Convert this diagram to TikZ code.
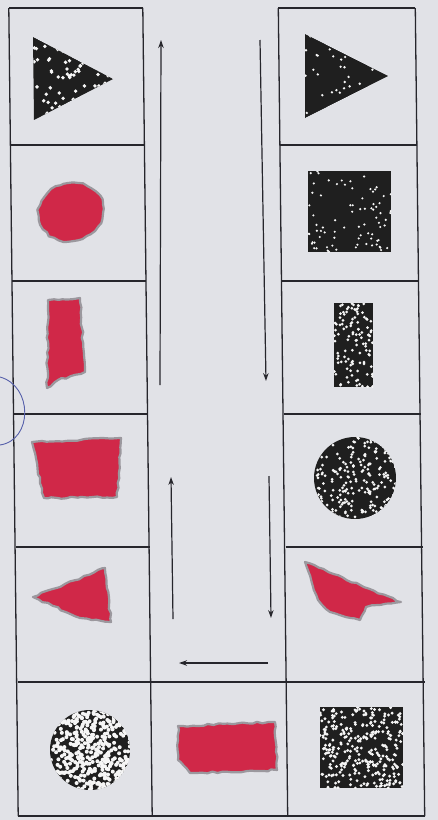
\documentclass[tikz,border=0pt]{standalone}
\usepackage{xcolor}
\usepackage{tikz}
\usetikzlibrary{arrows.meta,decorations.pathmorphing}

\definecolor{paper}{RGB}{225,226,231}
\definecolor{gridline}{RGB}{38,38,44}
\definecolor{paint}{RGB}{208,40,72}
\definecolor{rim}{RGB}{155,152,158}
\definecolor{pen}{RGB}{85,95,170}

% white speckles inside a clipped black shape
\newcommand\speckle[6]{%
  \foreach \n in {1,...,#5}{%
    \pgfmathsetmacro\sx{#1+rnd*(#3-#1)}%
    \pgfmathsetmacro\sy{#2+rnd*(#4-#2)}%
    \fill[white!92!gray] (\sx,\sy) circle (#6);}}

\begin{document}
\begin{tikzpicture}[
  x=1pt,y=-1pt,
  cell/.style={rectangle,inner sep=0pt,outer sep=0pt},
  frame/.style={draw=gridline,line width=1.3pt,line cap=butt},
  ink/.style={fill=black!88},
  redmark/.style={fill=paint,draw=rim,line width=2.2pt,line join=round,
    decorate,decoration={random steps,segment length=5pt,amplitude=1pt}},
  arrow/.style={-{Stealth[length=8pt,width=5.5pt]},line width=1.2pt,draw=gridline}
]
  \useasboundingbox (0,0) rectangle (438,820);
  \fill[paper] (0,0) rectangle (438,820);
  \pgfmathsetseed{29}

  % left column
  \node[cell,minimum width=134pt,minimum height=137pt] (l1) at (75.8,76.5) {};
  \node[cell,minimum width=134pt,minimum height=136pt] (l2) at (77.4,213) {};
  \node[cell,minimum width=134pt,minimum height=133pt] (l3) at (79.3,347.5) {};
  \node[cell,minimum width=134pt,minimum height=133pt] (l4) at (81.2,480.5) {};
  \node[cell,minimum width=134pt,minimum height=135pt] (l5) at (83.2,614.5) {};
  \node[cell,minimum width=134pt,minimum height=134pt] (l6) at (85.2,749) {};

  % right column
  \node[cell,minimum width=137pt,minimum height=137pt] (r1) at (346.8,76.5) {};
  \node[cell,minimum width=137pt,minimum height=136pt] (r2) at (348.4,213) {};
  \node[cell,minimum width=137pt,minimum height=133pt] (r3) at (350.3,347.5) {};
  \node[cell,minimum width=137pt,minimum height=133pt] (r4) at (352.2,480.5) {};
  \node[cell,minimum width=137pt,minimum height=135pt] (r5) at (354.2,614.5) {};
  \node[cell,minimum width=137pt,minimum height=134pt] (r6) at (356.2,749) {};

  % bottom middle
  \node[cell,minimum width=135pt,minimum height=134pt] (mid) at (221,749) {};

  % frame lines (paper is slightly skewed)
  \draw[frame] (l1.north west) -- (l6.south west);
  \draw[frame] (l1.north east) -- (l6.south east);
  \draw[frame] (r1.north west) -- (r6.south west);
  \draw[frame] (r1.north east) -- (r6.south east);
  \draw[frame] (l1.north west) -- (l1.north east);
  \draw[frame] (l2.north west) -- (l2.north east);
  \draw[frame] (l3.north west) -- (l3.north east);
  \draw[frame] (l4.north west) -- (l4.north east);
  \draw[frame] (l5.north west) -- (l5.north east);
  \draw[frame] (r1.north west) -- (r1.north east);
  \draw[frame] (r2.north west) -- (r2.north east);
  \draw[frame] (r3.north west) -- (r3.north east);
  \draw[frame] (r4.north west) -- (r4.north east);
  \draw[frame] (r5.north west) -- (r5.north east);
  \draw[frame] (l6.north west) -- (r6.north east);
  \draw[frame] (l6.south west) -- (r6.south east);

  % arrow ends
  \coordinate (la-bot) at (160,385);
  \coordinate (la-top) at (161,40);
  \coordinate (ra-top) at (260,40);
  \coordinate (ra-bot) at (266,381);
  \coordinate (lb-bot) at (173,619);
  \coordinate (lb-top) at (171,477);
  \coordinate (rb-top) at (269,476);
  \coordinate (rb-bot) at (271,618);
  \coordinate (h-right) at (268,663);
  \coordinate (h-left) at (179,663);

  \draw[arrow] (la-bot) -- (la-top);
  \draw[arrow] (ra-top) -- (ra-bot);
  \draw[arrow] (lb-bot) -- (lb-top);
  \draw[arrow] (rb-top) -- (rb-bot);
  \draw[arrow] (h-right) -- (h-left);

  % black printed shapes
  \begin{scope}
    \clip (33,37) -- (34,120) -- (113,79) -- cycle;
    \fill[ink] (33,37) -- (34,120) -- (113,79) -- cycle;
    \speckle{33}{37}{113}{120}{90}{1.9}
  \end{scope}
  \begin{scope}
    \clip (305,34) -- (305,118) -- (388,76) -- cycle;
    \fill[ink] (305,34) -- (305,118) -- (388,76) -- cycle;
    \speckle{305}{34}{388}{118}{40}{1.3}
  \end{scope}
  \begin{scope}
    \clip (308,171) rectangle (391,252);
    \fill[ink] (308,171) rectangle (391,252);
    \speckle{308}{171}{391}{252}{80}{1.2}
  \end{scope}
  \begin{scope}
    \clip (334,303) rectangle (373,387);
    \fill[ink] (334,303) rectangle (373,387);
    \speckle{334}{303}{373}{387}{110}{1.5}
  \end{scope}
  \begin{scope}
    \clip (355,478) circle (41);
    \fill[ink] (355,478) circle (41);
    \speckle{314}{437}{396}{519}{220}{1.5}
  \end{scope}
  \begin{scope}
    \clip (320,707) rectangle (403,788);
    \fill[ink] (320,707) rectangle (403,788);
    \speckle{320}{707}{403}{788}{300}{1.6}
  \end{scope}
  \begin{scope}
    \clip (90,750) circle (40);
    \fill[ink] (90,750) circle (40);
    \speckle{50}{710}{130}{790}{420}{2}
  \end{scope}

  % red painted shapes
  \filldraw[redmark] (71,212) ellipse [x radius=33, y radius=29, rotate=15];
  \filldraw[redmark] (48,300) -- (80,298) -- (85,372) -- (58,380) -- (47,388) -- cycle;
  \filldraw[redmark] (32,442) -- (121,438) -- (117,497) -- (44,498) -- cycle;
  \filldraw[redmark] (33,597) -- (105,568) -- (111,622) -- (80,618) -- cycle;
  \filldraw[redmark] (305,562) -- (401,602) -- (366,607) -- (360,620) -- (330,612) -- (318,600) -- cycle;
  \filldraw[redmark] (178,726) -- (275,722) -- (277,770) -- (190,773) -- (178,760) -- cycle;

  % pen mark at the left edge
  \draw[pen,line width=0.9pt] (0,377) .. controls (33,386) and (33,440) .. (0,445);
\end{tikzpicture}
\end{document}
